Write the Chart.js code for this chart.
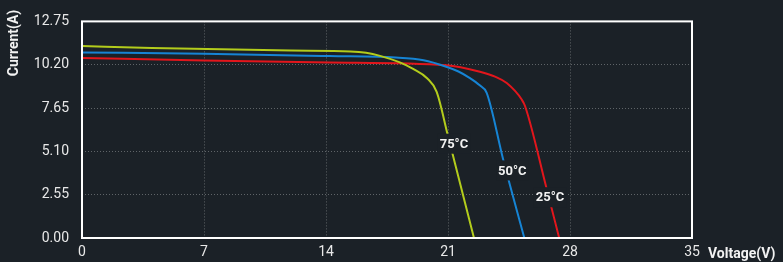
<!DOCTYPE html>
<html>
<head>
<meta charset="utf-8">
<script src="https://cdn.jsdelivr.net/npm/chart.js@4"></script>
<style>
    html, body { margin: 0; padding: 0; background: #1b2127; }
    #wrap { width: 783px; height: 262px; }
</style>
</head>
<body>
<div id="wrap"><canvas id="chart" width="783" height="262"></canvas></div>
<script>

// I-V curves (voltage V, current A)
let volts75 = [0, 4, 12, 15.4, 16.3, 17.1, 18.2, 19.0, 19.8, 20.35, 21.0, 22.49];
let amps75 = [11.3, 11.18, 11.03, 10.98, 10.9, 10.72, 10.35, 9.95, 9.4, 8.6, 6.0, 0];

let volts50 = [0, 7, 14.2, 18.0, 19.6, 20.9, 21.6, 22.26, 22.8, 23.22, 24.17, 25.38];
let amps50 = [10.92, 10.85, 10.71, 10.62, 10.46, 10.08, 9.8, 9.41, 9.0, 8.54, 4.6, 0];

let volts25 = [0, 7, 14.2, 20.9, 22.83, 23.7, 24.37, 25.23, 25.42, 26.62, 27.38];
let amps25 = [10.6, 10.45, 10.33, 10.17, 9.79, 9.5, 9.12, 8.15, 7.77, 3.06, 0];

let seriesNames = ['75°C', '50°C', '25°C'];
let seriesColors = ['#b3cc1c', '#1684d4', '#e2161c'];
// where each curve label sits (V, A)
let labelAt = [[21.34, 5.55], [24.69, 3.98], [26.85, 2.4]];

let xTicks = [0, 7, 14, 21, 28, 35];
let yTicks = [0, 2.55, 5.10, 7.65, 10.20, 12.75];

const BG = '#1b2127';

function toPoints(xs, ys) {
    let pts = [];
    for (let i = 0; i < xs.length; i++) {
        pts.push({ x: xs[i], y: ys[i] });
    }
    return pts;
}

let datasets = [
    toPoints(volts75, amps75),
    toPoints(volts50, amps50),
    toPoints(volts25, amps25)
].map((pts, i) => ({
    label: seriesNames[i],
    data: pts,
    borderColor: seriesColors[i],
    borderWidth: 2,
    pointRadius: 0,
    fill: false,
    cubicInterpolationMode: 'monotone'
}));

// frame, axis titles and curve labels
const decorPlugin = {
    id: 'decor',
    afterDatasetsDraw(chart) {
        let ctx = chart.ctx;
        let area = chart.chartArea;
        let xs = chart.scales.x;
        let ys = chart.scales.y;
        ctx.save();

        // curve labels with a background patch that cuts the line
        ctx.font = 'bold 13px Roboto';
        ctx.textAlign = 'center';
        ctx.textBaseline = 'middle';
        for (let i = 0; i < labelAt.length; i++) {
            let px = xs.getPixelForValue(labelAt[i][0]);
            let py = ys.getPixelForValue(labelAt[i][1]);
            let w = ctx.measureText(seriesNames[i]).width + 4;
            ctx.fillStyle = BG;
            ctx.fillRect(px - w / 2, py - 10, w, 20);
            ctx.fillStyle = '#f2f2f2';
            ctx.fillText(seriesNames[i], px, py + 1);
        }

        // white frame
        ctx.strokeStyle = '#ffffff';
        ctx.lineWidth = 2;
        ctx.strokeRect(area.left, area.top, area.right - area.left, area.bottom - area.top);

        // axis titles
        ctx.fillStyle = '#f2f2f2';
        ctx.font = 'bold 14px Roboto';
        ctx.textAlign = 'left';
        ctx.textBaseline = 'middle';
        ctx.fillText('Voltage(V)', 708, 254);

        ctx.translate(14, 43);
        ctx.rotate(-Math.PI / 2);
        ctx.textAlign = 'center';
        ctx.fillText('Current(A)', 0, 0);
        ctx.restore();
    }
};

let chart = new Chart(document.getElementById('chart'), {
    type: 'line',
    data: { datasets: datasets },
    plugins: [decorPlugin],
    options: {
        responsive: false,
        animation: false,
        layout: { padding: { top: 17, right: 91, left: 0, bottom: 0 } },
        plugins: {
            legend: { display: false },
            tooltip: { enabled: false }
        },
        scales: {
            x: {
                type: 'linear',
                min: 0,
                max: 35,
                afterBuildTicks: (scale) => { scale.ticks = xTicks.map(v => ({ value: v })); },
                afterFit: (scale) => { scale.height = 24; },
                ticks: {
                    color: '#e8e8e8',
                    font: { family: 'Roboto', size: 14 },
                    padding: 6,
                    maxRotation: 0
                },
                grid: {
                    color: 'rgba(255,255,255,0.3)',
                    lineWidth: 1,
                    drawTicks: false
                },
                border: { display: false, dash: [1, 2] }
            },
            y: {
                type: 'linear',
                min: 0,
                max: 12.75,
                afterBuildTicks: (scale) => { scale.ticks = yTicks.map(v => ({ value: v })); },
                afterFit: (scale) => { scale.width = 82; },
                ticks: {
                    color: '#e8e8e8',
                    font: { family: 'Roboto', size: 14 },
                    padding: 13,
                    callback: (v) => Number(v).toFixed(2)
                },
                grid: {
                    color: 'rgba(255,255,255,0.3)',
                    lineWidth: 1,
                    drawTicks: false
                },
                border: { display: false, dash: [1, 2] }
            }
        }
    }
});
</script>
</body>
</html>
